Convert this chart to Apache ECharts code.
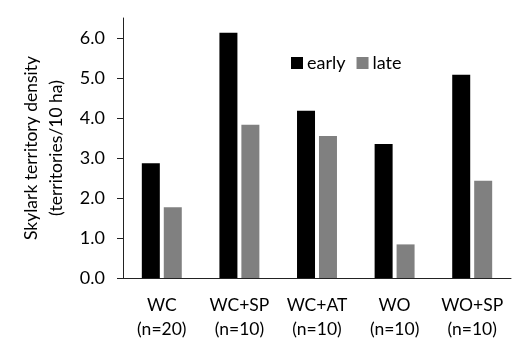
<!DOCTYPE html>
<html><head><meta charset="utf-8">
<script src="https://cdn.jsdelivr.net/npm/echarts@6/dist/echarts.min.js"></script>
<style>html,body{margin:0;padding:0;background:#fff}#c{width:530px;height:356px}</style>
</head><body><div id="c"></div>
<script>
const categories = ['WC\n(n=20)', 'WC+SP\n(n=10)', 'WC+AT\n(n=10)', 'WO\n(n=10)', 'WO+SP\n(n=10)'];
const earlyValues = [2.87, 6.13, 4.18, 3.35, 5.08];
const lateValues = [1.77, 3.83, 3.55, 0.84, 2.43];
const yTicks = [0, 1, 2, 3, 4, 5, 6];
const FONT = 'Lato';
const chart = echarts.init(document.getElementById('c'));
chart.setOption({
  animation: false,
  textStyle: {fontFamily: FONT},
  grid: {left: 123, right: 19, top: 18, bottom: 78},
  legend: {
    left: 291, top: 54, padding: 0, itemWidth: 12, itemHeight: 12, itemGap: 11,
    icon: 'rect',
    textStyle: {fontFamily: FONT, fontSize: 18, color: '#000', padding: [0, 0, 0, -1]},
    data: ['early', 'late']
  },
  xAxis: {
    type: 'category', data: categories,
    axisLine: {lineStyle: {color: '#222', width: 1}},
    axisTick: {show: false},
    axisLabel: {interval: 0, fontFamily: FONT, fontSize: 17.5, color: '#000', lineHeight: 24, margin: 15}
  },
  yAxis: {
    type: 'value', min: 0, max: 6.5,
    name: 'Skylark territory density\n(territories/10 ha)',
    nameLocation: 'middle', nameGap: 49,
    nameTextStyle: {fontFamily: FONT, fontSize: 17.5, color: '#000', lineHeight: 25},
    axisLine: {show: true, lineStyle: {color: '#222', width: 1}},
    axisTick: {show: true, inside: false, length: 6, customValues: yTicks, lineStyle: {color: '#222'}},
    axisLabel: {fontFamily: FONT, fontSize: 18, color: '#000', margin: 18, customValues: yTicks,
      formatter: v => v.toFixed(1)},
    splitLine: {show: false}
  },
  series: [
    {name: 'early', type: 'bar', data: earlyValues, barWidth: 18, barGap: '22%', itemStyle: {color: '#000'}},
    {name: 'late', type: 'bar', data: lateValues, barWidth: 18, itemStyle: {color: '#808080'}}
  ]
});
</script></body></html>
